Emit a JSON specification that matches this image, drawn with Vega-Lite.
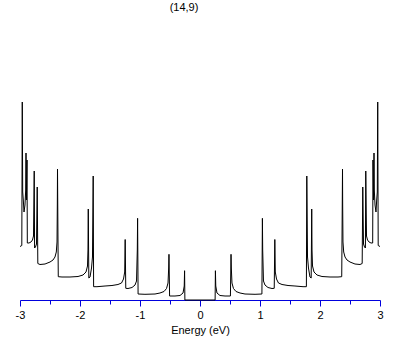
{
  "$schema": "https://vega.github.io/schema/vega-lite/v6.json",
  "width": 360,
  "height": 280,
  "autosize": {"type": "none"},
  "padding": {"left": 20, "top": 20, "right": 29, "bottom": 45},
  "title": {"text": "(14,9)", "font": "Liberation Sans", "fontSize": 11, "fontWeight": "normal", "color": "black", "offset": 7, "dx": -16},
  "config": {"view": {"stroke": null}},
  "data": {"values": [
    {"E": -3.000, "dos": 53.5}, {"E": -2.970, "dos": 54.5}, {"E": -2.962, "dos": 198}, {"E": -2.955, "dos": 108},
    {"E": -2.945, "dos": 100}, {"E": -2.933, "dos": 88}, {"E": -2.917, "dos": 95}, {"E": -2.905, "dos": 110},
    {"E": -2.900, "dos": 147}, {"E": -2.893, "dos": 100}, {"E": -2.883, "dos": 140}, {"E": -2.878, "dos": 57},
    {"E": -2.850, "dos": 57}, {"E": -2.817, "dos": 58}, {"E": -2.792, "dos": 60}, {"E": -2.775, "dos": 64},
    {"E": -2.763, "dos": 129}, {"E": -2.757, "dos": 52}, {"E": -2.742, "dos": 53}, {"E": -2.725, "dos": 56},
    {"E": -2.713, "dos": 113}, {"E": -2.703, "dos": 36.5}, {"E": -2.667, "dos": 35.5}, {"E": -2.583, "dos": 36},
    {"E": -2.500, "dos": 38}, {"E": -2.450, "dos": 40}, {"E": -2.417, "dos": 43}, {"E": -2.395, "dos": 48},
    {"E": -2.383, "dos": 58}, {"E": -2.378, "dos": 95}, {"E": -2.375, "dos": 131}, {"E": -2.367, "dos": 62},
    {"E": -2.362, "dos": 23.3}, {"E": -2.300, "dos": 23}, {"E": -2.167, "dos": 23}, {"E": -2.033, "dos": 23.5},
    {"E": -1.950, "dos": 25}, {"E": -1.900, "dos": 28}, {"E": -1.875, "dos": 34}, {"E": -1.867, "dos": 50},
    {"E": -1.862, "dos": 91}, {"E": -1.853, "dos": 22}, {"E": -1.833, "dos": 23}, {"E": -1.808, "dos": 32},
    {"E": -1.792, "dos": 43}, {"E": -1.780, "dos": 124}, {"E": -1.773, "dos": 13.3}, {"E": -1.717, "dos": 13.3},
    {"E": -1.583, "dos": 14}, {"E": -1.467, "dos": 14.5}, {"E": -1.367, "dos": 15.5}, {"E": -1.308, "dos": 17},
    {"E": -1.275, "dos": 21}, {"E": -1.255, "dos": 28}, {"E": -1.247, "dos": 60.5}, {"E": -1.237, "dos": 11.7},
    {"E": -1.200, "dos": 11.5}, {"E": -1.133, "dos": 12.5}, {"E": -1.083, "dos": 15}, {"E": -1.058, "dos": 19},
    {"E": -1.045, "dos": 50}, {"E": -1.040, "dos": 81.7}, {"E": -1.032, "dos": 6}, {"E": -0.917, "dos": 5.7},
    {"E": -0.750, "dos": 6}, {"E": -0.667, "dos": 7}, {"E": -0.600, "dos": 8.5}, {"E": -0.558, "dos": 11.5},
    {"E": -0.533, "dos": 17}, {"E": -0.522, "dos": 32}, {"E": -0.517, "dos": 45.7}, {"E": -0.507, "dos": 4},
    {"E": -0.417, "dos": 4}, {"E": -0.333, "dos": 4.5}, {"E": -0.283, "dos": 7}, {"E": -0.263, "dos": 14},
    {"E": -0.257, "dos": 29.3}, {"E": -0.252, "dos": 0},
    {"E": 0.252, "dos": 0}, {"E": 0.257, "dos": 29.3}, {"E": 0.263, "dos": 14}, {"E": 0.283, "dos": 7},
    {"E": 0.333, "dos": 4.5}, {"E": 0.417, "dos": 4}, {"E": 0.507, "dos": 4}, {"E": 0.517, "dos": 45.7},
    {"E": 0.522, "dos": 32}, {"E": 0.533, "dos": 17}, {"E": 0.558, "dos": 11.5}, {"E": 0.600, "dos": 8.5},
    {"E": 0.667, "dos": 7}, {"E": 0.750, "dos": 6}, {"E": 0.917, "dos": 5.7}, {"E": 1.032, "dos": 6},
    {"E": 1.040, "dos": 81.7}, {"E": 1.045, "dos": 50}, {"E": 1.058, "dos": 19}, {"E": 1.083, "dos": 15},
    {"E": 1.133, "dos": 12.5}, {"E": 1.200, "dos": 11.5}, {"E": 1.237, "dos": 11.7}, {"E": 1.247, "dos": 60.5},
    {"E": 1.255, "dos": 28}, {"E": 1.275, "dos": 21}, {"E": 1.308, "dos": 17}, {"E": 1.367, "dos": 15.5},
    {"E": 1.467, "dos": 14.5}, {"E": 1.583, "dos": 14}, {"E": 1.717, "dos": 13.3}, {"E": 1.773, "dos": 13.3},
    {"E": 1.780, "dos": 124}, {"E": 1.792, "dos": 43}, {"E": 1.808, "dos": 32}, {"E": 1.833, "dos": 23},
    {"E": 1.853, "dos": 22}, {"E": 1.862, "dos": 91}, {"E": 1.867, "dos": 50}, {"E": 1.875, "dos": 34},
    {"E": 1.900, "dos": 28}, {"E": 1.950, "dos": 25}, {"E": 2.033, "dos": 23.5}, {"E": 2.167, "dos": 23},
    {"E": 2.300, "dos": 23}, {"E": 2.362, "dos": 23.3}, {"E": 2.367, "dos": 62}, {"E": 2.375, "dos": 131},
    {"E": 2.378, "dos": 95}, {"E": 2.383, "dos": 58}, {"E": 2.395, "dos": 48}, {"E": 2.417, "dos": 43},
    {"E": 2.450, "dos": 40}, {"E": 2.500, "dos": 38}, {"E": 2.583, "dos": 36}, {"E": 2.667, "dos": 35.5},
    {"E": 2.703, "dos": 36.5}, {"E": 2.713, "dos": 113}, {"E": 2.725, "dos": 56}, {"E": 2.742, "dos": 53},
    {"E": 2.757, "dos": 52}, {"E": 2.763, "dos": 129}, {"E": 2.775, "dos": 64}, {"E": 2.792, "dos": 60},
    {"E": 2.817, "dos": 58}, {"E": 2.850, "dos": 57}, {"E": 2.878, "dos": 57}, {"E": 2.883, "dos": 140},
    {"E": 2.893, "dos": 100}, {"E": 2.900, "dos": 147}, {"E": 2.905, "dos": 110}, {"E": 2.917, "dos": 95},
    {"E": 2.933, "dos": 88}, {"E": 2.945, "dos": 100}, {"E": 2.955, "dos": 108}, {"E": 2.962, "dos": 198},
    {"E": 2.970, "dos": 54.5}, {"E": 3.000, "dos": 53.5}
  ]},
  "mark": {"type": "line", "color": "black", "strokeWidth": 1},
  "encoding": {
    "x": {
      "field": "E", "type": "quantitative",
      "scale": {"domain": [-3, 3], "nice": false, "zero": false},
      "axis": {
        "title": "Energy (eV)",
        "values": [-3, -2.5, -2, -1.5, -1, -0.5, 0, 0.5, 1, 1.5, 2, 2.5, 3],
        "labelExpr": "datum.value % 1 === 0 ? toString(datum.value) : ''",
        "grid": false,
        "domainColor": "#0000dd",
        "tickColor": "#0000dd",
        "tickSize": {"condition": {"test": "datum.value % 1 === 0", "value": 6}, "value": 4},
        "labelColor": "black",
        "labelFont": "Liberation Sans",
        "labelFontSize": 11,
        "labelPadding": 3,
        "labelFlush": false,
        "labelOverlap": false,
        "titleFont": "Liberation Sans",
        "titleFontSize": 11,
        "titleFontWeight": "normal",
        "titleColor": "black",
        "titlePadding": 4
      }
    },
    "y": {"field": "dos", "type": "quantitative", "scale": {"domain": [0, 280]}, "axis": null}
  }
}
